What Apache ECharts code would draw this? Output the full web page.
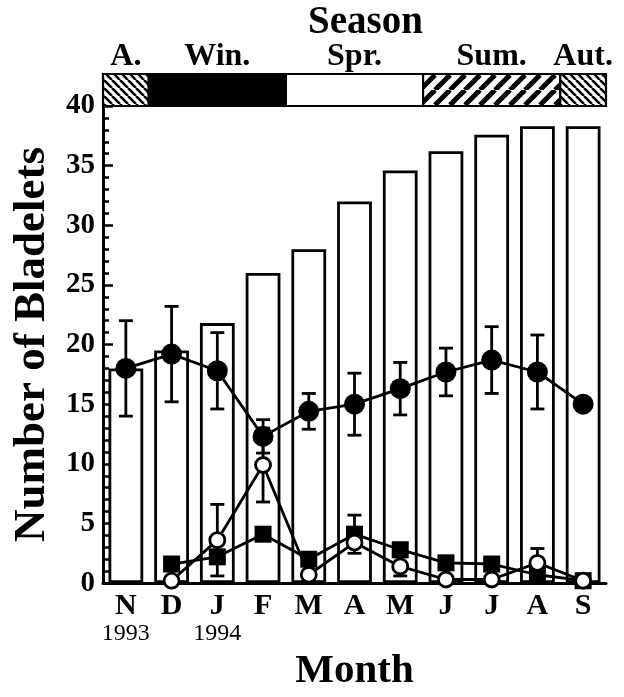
<!DOCTYPE html>
<html><head><meta charset="utf-8">
<script src="https://cdn.jsdelivr.net/npm/echarts@6/dist/echarts.min.js"></script>
<style>html,body{margin:0;padding:0;background:#fff}#c{width:624px;height:697px}</style>
</head><body><div id="c"></div>
<script>
// ---- data ----
const months = ['N','D','J','F','M','A','M','J','J','A','S'];
const yearLabels = ['1993','','1994','','','','','','','',''];
const bladeletBars = [18.0, 19.5, 21.8, 26.0, 28.0, 32.0, 34.6, 36.2, 37.6, 38.3, 38.3];
const filledCircle = [18.0, 19.2, 17.8, 12.3, 14.4, 15.0, 16.3, 17.7, 18.7, 17.7, 15.0];
const filledCircleErr = [4.0, 4.0, 3.2, 1.4, 1.5, 2.6, 2.2, 2.0, 2.8, 3.1, null];
const openCircle = [null, 0.2, 3.6, 9.9, 0.7, 3.4, 1.4, 0.3, 0.3, 1.7, 0.2];
const openCircleErr = [null, null, 3.0, 3.1, null, null, 0.8, null, null, 1.2, null];
const filledSquare = [null, 1.6, 2.2, 4.1, 2.0, 4.1, 2.8, 1.7, 1.6, 0.7, 0.2];
const filledSquareErr = [null, null, null, null, null, 1.6, null, null, null, null, null];
const yTicks = {min: 0, max: 40, interval: 5};
const seasonNames = ['A.', 'Win.', 'Spr.', 'Sum.', 'Aut.'];
const seasonStart = [0, 1, 4, 7, 10];
const seasonEnd = [1, 4, 7, 10, 11];
const seasonPattern = ['back', 'black', 'white', 'fwd', 'back'];

// ---- styling helpers ----
const FF = '"Liberation Serif", "Times New Roman", serif';
function stripe(size, lw, dir) {
  const c = document.createElement('canvas');
  c.width = size; c.height = size;
  const g = c.getContext('2d');
  g.fillStyle = '#fff'; g.fillRect(0, 0, size, size);
  g.strokeStyle = '#000'; g.lineWidth = lw;
  for (let k = -1; k <= 1; k++) {
    g.beginPath();
    if (dir === 'back') { g.moveTo(k * size, 0); g.lineTo(k * size + size, size); }
    else { g.moveTo(k * size, size); g.lineTo(k * size + size, 0); }
    g.stroke();
  }
  return {image: c, repeat: 'repeat'};
}
const fills = {
  back: stripe(8, 2.6, 'back'),
  fwd: stripe(15, 5, 'fwd'),
  black: '#000',
  white: '#fff'
};

function errData(vals, errs) {
  const out = [];
  vals.forEach((v, i) => { if (v != null && errs[i] != null) out.push([i, v - errs[i], v + errs[i]]); });
  return out;
}
function errRender(params, api) {
  const x = api.value(0);
  const lo = api.coord([x, api.value(1)]);
  const hi = api.coord([x, api.value(2)]);
  const hw = 7;
  const st = {stroke: '#000', lineWidth: 2.8};
  return {type: 'group', children: [
    {type: 'line', shape: {x1: lo[0], y1: lo[1], x2: hi[0], y2: hi[1]}, style: st},
    {type: 'line', shape: {x1: lo[0] - hw, y1: lo[1], x2: lo[0] + hw, y2: lo[1]}, style: st},
    {type: 'line', shape: {x1: hi[0] - hw, y1: hi[1], x2: hi[0] + hw, y2: hi[1]}, style: st}
  ]};
}

const chart = echarts.init(document.getElementById('c'), null, {renderer: 'canvas'});
chart.setOption({
  animation: false,
  backgroundColor: '#fff',
  graphic: [{
    type: 'text', left: 308, top: 3,
    style: {text: 'Season', font: 'bold 39px ' + FF, fill: '#000'}
  }],
  grid: [
    {left: 103, right: 18, top: 106, bottom: 111},
    {left: 103, right: 18, top: 74, height: 32}
  ],
  xAxis: [{
    type: 'category', data: months, gridIndex: 0, boundaryGap: true,
    axisLine: {lineStyle: {color: '#000', width: 3}},
    axisTick: {inside: true, length: 5, lineStyle: {color: '#000', width: 2.5}},
    axisLabel: {
      margin: 7, interval: 0, color: '#000',
      formatter: (v, i) => yearLabels[i] ? '{m|' + v + '}\n{y|' + yearLabels[i] + '}' : '{m|' + v + '}',
      rich: {
        m: {fontSize: 30, fontWeight: 'bold', fontFamily: FF, color: '#000', lineHeight: 32},
        y: {fontSize: 24, fontFamily: FF, color: '#000', lineHeight: 24}
      }
    },
    name: 'Month', nameLocation: 'middle', nameGap: 62,
    nameTextStyle: {fontSize: 41, fontWeight: 'bold', fontFamily: FF, color: '#000'}
  }, {
    type: 'value', gridIndex: 1, min: 0, max: 11, show: false
  }],
  yAxis: [{
    type: 'value', gridIndex: 0, min: yTicks.min, max: yTicks.max, interval: yTicks.interval,
    axisLine: {show: true, lineStyle: {color: '#000', width: 3}},
    axisTick: {show: true, inside: true, length: 10, lineStyle: {color: '#000', width: 2.5}},
    minorTick: {show: true, splitNumber: 5, length: 6, lineStyle: {color: '#000', width: 2.5}},
    splitLine: {show: false},
    axisLabel: {margin: 8, color: '#000', fontSize: 29, fontWeight: 'bold', fontFamily: FF},
    name: 'Number of Bladelets', nameLocation: 'middle', nameGap: 41,
    nameTextStyle: {fontSize: 45, fontWeight: 'bold', fontFamily: FF, color: '#000'}
  }, {
    type: 'value', gridIndex: 1, min: 0, max: 1, show: false
  }],
  series: [
    {
      type: 'bar', data: bladeletBars, barWidth: '76%', z: 1,
      itemStyle: {color: '#fff', borderColor: '#000', borderWidth: 2.8}
    },
    {type: 'custom', z: 2, data: errData(filledCircle, filledCircleErr), renderItem: errRender},
    {type: 'custom', z: 2, data: errData(openCircle, openCircleErr), renderItem: errRender},
    {type: 'custom', z: 2, data: errData(filledSquare, filledSquareErr), renderItem: errRender},
    {
      type: 'line', data: filledSquare, z: 3, symbol: 'rect', symbolSize: 17,
      itemStyle: {color: '#000'}, lineStyle: {color: '#000', width: 2.8}
    },
    {
      type: 'line', data: openCircle, z: 4, symbol: 'circle', symbolSize: 15,
      itemStyle: {color: '#fff', borderColor: '#000', borderWidth: 2.8}, lineStyle: {color: '#000', width: 2.8}
    },
    {
      type: 'line', data: filledCircle, z: 5, symbol: 'circle', symbolSize: 21,
      itemStyle: {color: '#000'}, lineStyle: {color: '#000', width: 2.8}
    },
    {
      type: 'custom', xAxisIndex: 1, yAxisIndex: 1, z: 3,
      data: seasonNames.map((n, i) => [seasonStart[i], seasonEnd[i], i]),
      renderItem: (params, api) => {
        const i = api.value(2);
        const p0 = api.coord([api.value(0), 1]);
        const p1 = api.coord([api.value(1), 0]);
        return {type: 'group', children: [
          {type: 'rect', shape: {x: p0[0], y: p0[1], width: p1[0] - p0[0], height: p1[1] - p0[1]},
           style: {fill: fills[seasonPattern[i]], stroke: '#000', lineWidth: 2.2}},
          {type: 'text', style: {text: seasonNames[i], x: (p0[0] + p1[0]) / 2, y: p0[1] - 1,
           align: 'center', verticalAlign: 'bottom', font: 'bold 32px ' + FF, fill: '#000'}}
        ]};
      }
    }
  ]
});
</script></body></html>
